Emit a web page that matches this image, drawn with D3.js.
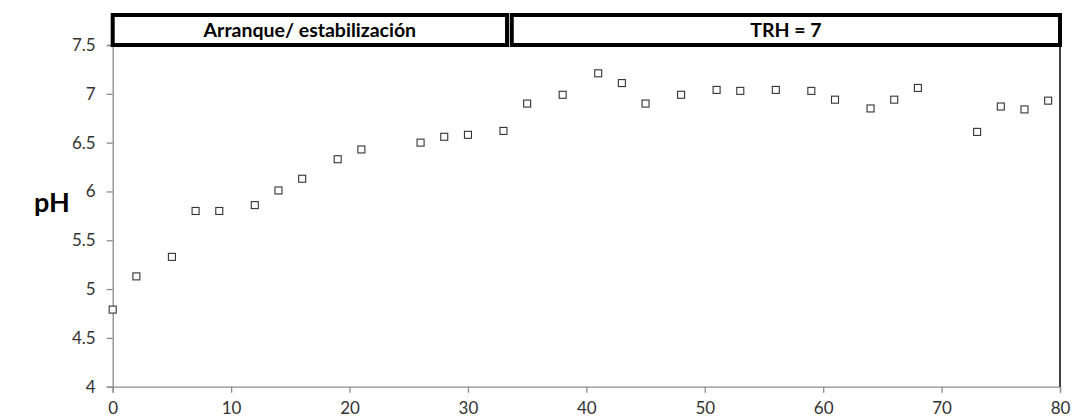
<!DOCTYPE html>
<html>
<head>
<meta charset="utf-8">
<script src="https://cdn.jsdelivr.net/npm/d3@7"></script>
<style>
  html, body { margin: 0; padding: 0; background: #fff; }
  svg { display: block; }
  text { font-family: Lato, "Liberation Sans", sans-serif; }
</style>
</head>
<body>
<svg id="chart" width="1075" height="419"></svg>
<script>
// ---- data ----
const days = [0, 2, 5, 7, 9, 12, 14, 16, 19, 21, 26, 28, 30, 33, 35, 38, 41, 43, 45, 48, 51, 53, 56, 59, 61, 64, 66, 68, 73, 75, 77, 79];
const phValues = [4.79, 5.13, 5.33, 5.80, 5.80, 5.86, 6.01, 6.13, 6.33, 6.43, 6.50, 6.56, 6.58, 6.62, 6.90, 6.99, 7.21, 7.11, 6.90, 6.99, 7.04, 7.03, 7.04, 7.03, 6.94, 6.85, 6.94, 7.06, 6.61, 6.87, 6.84, 6.93];
const xTicks = [0, 10, 20, 30, 40, 50, 60, 70, 80];
const yTicks = [4, 4.5, 5, 5.5, 6, 6.5, 7, 7.5];
const phaseLabels = ["Arranque/ estabilización", "TRH = 7"];
const phaseStart = [0, 33.7];
const phaseEnd = [33.3, 80];
const yLabel = "pH";

// ---- layout ----
const svg = d3.select("#chart");
const plotLeft = 112.7, plotRight = 1060, plotTop = 45, plotBottom = 386.7;

const x = d3.scaleLinear().domain([0, 80]).range([plotLeft, plotRight]);
const y = d3.scaleLinear().domain([4, 7.5]).range([plotBottom, plotTop]);

const axisColor = "#8c8c8c";
const labelColor = "#333";

// x axis
const gx = svg.append("g")
  .attr("transform", `translate(0,${plotBottom})`)
  .call(d3.axisBottom(x).tickValues(xTicks).tickFormat(d3.format("d")).tickSize(6).tickPadding(9.5));
gx.select(".domain").attr("stroke", axisColor).attr("stroke-width", 1.3);
gx.selectAll(".tick line").attr("stroke", axisColor).attr("stroke-width", 1.3);
gx.selectAll(".tick text").attr("fill", labelColor).attr("font-size", 17).attr("font-family", "Lato");

// y axis
const gy = svg.append("g")
  .attr("transform", `translate(${plotLeft},0)`)
  .call(d3.axisLeft(y).tickValues(yTicks).tickFormat(d => String(d)).tickSize(6).tickPadding(11));
gy.select(".domain").attr("stroke", axisColor).attr("stroke-width", 1.3);
gy.selectAll(".tick line").attr("stroke", axisColor).attr("stroke-width", 1.3);
gy.selectAll(".tick text").attr("fill", labelColor).attr("font-size", 17).attr("font-family", "Lato");

// right border line
svg.append("line")
  .attr("x1", x(80)).attr("x2", x(80))
  .attr("y1", y(7.5)).attr("y2", y(4))
  .attr("stroke", "#000").attr("stroke-width", 1.5);

// phase boxes
const boxTop = 15;
phaseLabels.forEach((lab, i) => {
  const x0 = x(phaseStart[i]), x1 = x(phaseEnd[i]);
  svg.append("rect")
    .attr("x", x0).attr("y", boxTop)
    .attr("width", x1 - x0).attr("height", y(7.5) - boxTop)
    .attr("fill", "#fff").attr("stroke", "#000").attr("stroke-width", 4);
  svg.append("text")
    .attr("x", (x0 + x1) / 2).attr("y", 37)
    .attr("text-anchor", "middle")
    .attr("font-weight", "bold").attr("font-size", 19.5)
    .attr("fill", "#000")
    .text(lab);
});

// y label
svg.append("text")
  .attr("x", 34).attr("y", 212)
  .attr("font-weight", "bold").attr("font-size", 27)
  .attr("fill", "#000")
  .text(yLabel);

// markers
const s = 7;
svg.append("g").selectAll("rect")
  .data(days.map((d, i) => [d, phValues[i]]))
  .join("rect")
  .attr("x", d => x(d[0]) - s / 2)
  .attr("y", d => y(d[1]) - s / 2)
  .attr("width", s).attr("height", s)
  .attr("fill", "#fff")
  .attr("stroke", "#333")
  .attr("stroke-width", 1.1);
</script>
</body>
</html>
